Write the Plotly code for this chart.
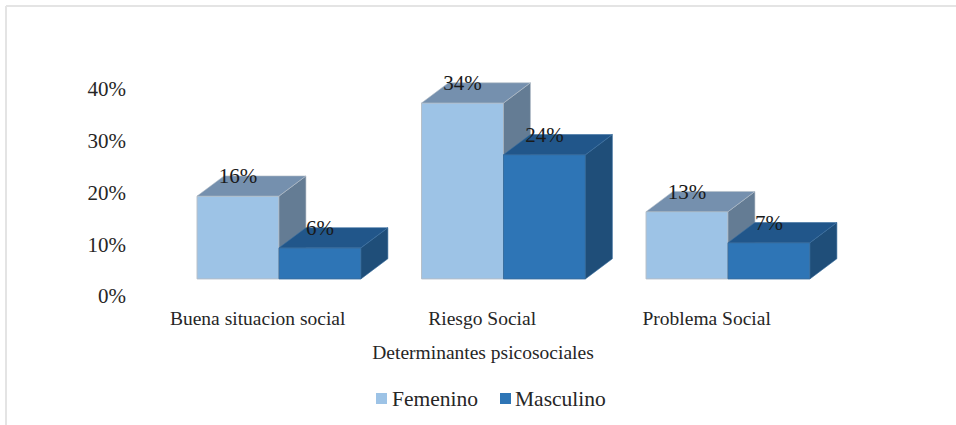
import plotly.graph_objects as go

# Chart data
categories = ["Buena situacion social", "Riesgo Social", "Problema Social"]
series_names = ["Femenino", "Masculino"]
femenino = [16, 34, 13]
masculino = [6, 24, 7]
labels_femenino = ["16%", "34%", "13%"]
labels_masculino = ["6%", "24%", "7%"]
y_ticks = [0, 10, 20, 30, 40]
y_tick_labels = ["0%", "10%", "20%", "30%", "40%"]

# Projection of the pseudo-3D columns, in axis units
BAR_WIDTH = 0.365
DEPTH_X = 0.12
DEPTH_Y = 3.9
FLOOR = 3.3
LABEL_SHIFT = -0.095
LABEL_DROP = 0.4

SERIF = "Liberation Serif, Times New Roman, serif"
X_RANGE = [-0.6726, 2.490]
Y_RANGE = [0, 51.4]

# Page geometry, used only for the frame and the key below the plot
WIDTH, HEIGHT = 956, 425
M_LEFT, M_RIGHT, M_TOP, M_BOTTOM = 128, 118, 30, 129


def paper_x(px):
    return (px - M_LEFT) / (WIDTH - M_LEFT - M_RIGHT)


def paper_y(py):
    return (HEIGHT - M_BOTTOM - py) / (HEIGHT - M_TOP - M_BOTTOM)


def polygons(lefts, values, kind):
    """Closed outlines for the top or side faces, separated by gaps."""
    xs, ys = [], []
    for left, value in zip(lefts, values):
        right = left + BAR_WIDTH
        top = FLOOR + value
        if kind == "top":
            xs += [left, right, right + DEPTH_X, left + DEPTH_X, left, None]
            ys += [top, top, top + DEPTH_Y, top + DEPTH_Y, top, None]
        else:
            xs += [right, right + DEPTH_X, right + DEPTH_X, right, right, None]
            ys += [FLOOR, FLOOR + DEPTH_Y, top + DEPTH_Y, top, FLOOR, None]
    return xs, ys


def add_series(fig, name, values, lefts, front, top, side, edge, xref, yref):
    sx, sy = polygons(lefts, values, "side")
    tx, ty = polygons(lefts, values, "top")
    fig.add_trace(go.Bar(
        x=[v + BAR_WIDTH / 2 for v in lefts], y=values, base=FLOOR, width=BAR_WIDTH,
        name=name, marker=dict(color=front, line=dict(color=edge, width=1)),
        showlegend=False, xaxis=xref, yaxis=yref, hoverinfo="skip"))
    for px, py, color in ((sx, sy, side), (tx, ty, top)):
        fig.add_trace(go.Scatter(
            x=px, y=py, mode="lines", fill="toself", fillcolor=color,
            line=dict(color=edge, width=0.6), showlegend=False,
            xaxis=xref, yaxis=yref, hoverinfo="skip"))


positions = list(range(len(categories)))
left_f = [p - BAR_WIDTH for p in positions]
left_m = list(positions)

LIGHT, DARK = "#9DC3E6", "#2E75B6"

fig = go.Figure()
add_series(fig, series_names[0], femenino, left_f, LIGHT, "#7590AE", "#647C94", "#B4BEC8", "x", "y")
add_series(fig, series_names[1], masculino, left_m, DARK, "#21568A", "#1F4E79", "#3A6F9F", "x2", "y2")

# Value labels sit on the back edge of each column's top face
fig.add_trace(go.Scatter(
    x=[v + BAR_WIDTH / 2 for v in left_f] + [v + BAR_WIDTH / 2 for v in left_m],
    y=[FLOOR + v + DEPTH_Y - LABEL_DROP for v in femenino + masculino],
    text=labels_femenino + labels_masculino,
    mode="text", textposition="middle center",
    textfont=dict(family=SERIF, size=21, color="#1a1a1a"),
    showlegend=False, xaxis="x2", yaxis="y2", hoverinfo="skip"))

# Thin frame along the top and left of the chart area
FRAME = dict(color="#E4E4E4", width=2)
shapes = [
    dict(type="line", xref="paper", yref="paper", x0=paper_x(6), x1=paper_x(WIDTH),
         y0=paper_y(6), y1=paper_y(6), line=FRAME),
    dict(type="line", xref="paper", yref="paper", x0=paper_x(6), x1=paper_x(6),
         y0=paper_y(HEIGHT), y1=paper_y(6), line=FRAME),
]

# Key under the plot: a small swatch and a label per series
annotations = []
for name, color, swatch_left, text_left in zip(series_names, [LIGHT, DARK], [376, 500], [392, 515]):
    shapes.append(dict(type="rect", xref="paper", yref="paper", fillcolor=color, line=dict(width=0),
                       x0=paper_x(swatch_left), x1=paper_x(swatch_left + 11),
                       y0=paper_y(404), y1=paper_y(393)))
    annotations.append(dict(text=name, xref="paper", yref="paper", x=paper_x(text_left), y=paper_y(399),
                            xanchor="left", yanchor="middle", showarrow=False,
                            font=dict(family=SERIF, size=21.5, color="#262626"),
                            borderpad=0, borderwidth=0))

fig.update_layout(
    width=WIDTH, height=HEIGHT, autosize=False,
    margin=dict(l=M_LEFT, r=M_RIGHT, t=M_TOP, b=M_BOTTOM, pad=0),
    paper_bgcolor="white", plot_bgcolor="white",
    barmode="overlay",
    font=dict(family=SERIF, color="#262626"),
    xaxis=dict(
        range=X_RANGE, tickmode="array", automargin=False,
        tickvals=[p + LABEL_SHIFT for p in positions], ticktext=categories,
        tickfont=dict(size=19.5), showgrid=False, zeroline=False, showline=False,
        ticks="outside", ticklen=5, tickcolor="rgba(0,0,0,0)",
        title=dict(text="Determinantes psicosociales", font=dict(size=19.5), standoff=16)),
    yaxis=dict(
        range=Y_RANGE, tickmode="array", tickvals=y_ticks, ticktext=y_tick_labels, automargin=False,
        tickfont=dict(size=21), showgrid=False, zeroline=False, showline=False,
        ticks="", ticklabelstandoff=1),
    xaxis2=dict(range=X_RANGE, overlaying="x", visible=False),
    yaxis2=dict(range=Y_RANGE, overlaying="y", visible=False),
    showlegend=False,
    shapes=shapes,
    annotations=annotations,
)

fig.write_html("out.html")
